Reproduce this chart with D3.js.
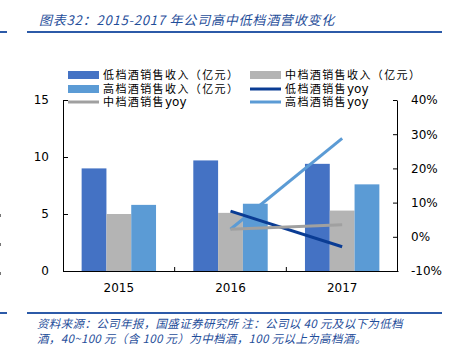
<!DOCTYPE html>
<html><head><meta charset="utf-8">
<script src="https://cdn.jsdelivr.net/npm/d3@7"></script>
<style>body{margin:0;background:#fff}svg{display:block}</style>
</head><body>
<svg id="c" width="452" height="349"></svg>
<script>
const categories = ["2015","2016","2017"];
const lowRev = [9.0, 9.7, 9.4];
const midRev = [5.0, 5.1, 5.3];
const highRev = [5.8, 5.9, 7.6];
const lowYoy = [null, 7.5, -2.9];
const midYoy = [null, 2.2, 3.5];
const highYoy = [null, 2.2, 28.8];
const leftTicks = [0,5,10,15];
const rightTicks = [-10,0,10,20,30,40];

const svg = d3.select("#c");
const font = "'Noto Sans CJK SC','Noto Sans',sans-serif";
const legFont = "'DejaVu Sans','Noto Sans CJK SC',sans-serif";
const titleColor = "#1f4e9a";
const cLow="#4472C4", cMid="#B4B4B4", cHigh="#5B9BD5";
const lLow="#0a3c94", lMid="#a0a0a0", lHigh="#5b9bd5";

// title
svg.append("text").attr("x",39).attr("y",25).attr("font-family",font).attr("font-size",13)
  .attr("font-style","italic").attr("letter-spacing",0.8).attr("fill",titleColor).text("图表32：2015-2017 年公司高中低档酒营收变化");
svg.append("rect").attr("x",27).attr("y",31).attr("width",415).attr("height",2).attr("fill","#2c5aa8");
svg.append("rect").attr("x",0).attr("y",31).attr("width",7).attr("height",2).attr("fill","#2c5aa8");

const x0=63, x1=398, yTop=100, yBot=271;
const x = d3.scaleBand().domain(categories).range([x0,x1]).paddingInner(0).paddingOuter(0);
const groupW = 74.4;
const sub = d3.scaleBand().domain(["low","mid","high"])
  .range([(x.bandwidth()-groupW)/2,(x.bandwidth()+groupW)/2]).paddingInner(0).paddingOuter(0);
const yL = d3.scaleLinear().domain([0,15]).range([yBot,yTop]);
const yR = d3.scaleLinear().domain([-10,40]).range([yBot,yTop]);

const series=[["low",lowRev,cLow],["mid",midRev,cMid],["high",highRev,cHigh]];
series.forEach(([k,vals,col])=>{
  svg.append("g").selectAll("rect").data(vals).join("rect")
    .attr("x",(d,i)=>x(categories[i])+sub(k)).attr("width",sub.bandwidth())
    .attr("y",d=>yL(d)).attr("height",d=>yBot-yL(d)).attr("fill",col);
});

// axes
const axL = d3.axisLeft(yL).tickValues(leftTicks).tickSize(-5).tickPadding(14).tickSizeOuter(0);
const gL = svg.append("g").attr("transform",`translate(${x0},0)`).call(axL);
const axR = d3.axisRight(yR).tickValues(rightTicks).tickSize(-4).tickPadding(14).tickFormat(d=>d+"%").tickSizeOuter(0);
const gR = svg.append("g").attr("transform",`translate(${x1-1},0)`).call(axR);
const axB = d3.axisBottom(x).tickSize(0).tickPadding(12).tickSizeOuter(0);
const gB = svg.append("g").attr("transform",`translate(0,${yBot})`).call(axB);
[gL,gR,gB].forEach(g=>{
  g.selectAll("text").attr("font-family","Verdana,'DejaVu Sans',sans-serif").attr("font-size",12).attr("fill","#000");
  g.selectAll("line").attr("stroke","#000");
  g.select(".domain").attr("stroke","#000");
});
// category boundary ticks pointing up
svg.append("g").selectAll("line").data(categories.slice(1)).join("line")
  .attr("x1",d=>x(d)).attr("x2",d=>x(d)).attr("y1",yBot).attr("y2",yBot-4).attr("stroke","#000");

// lines
const line = d3.line().defined(d=>d!=null).x((d,i)=>x(categories[i])+x.bandwidth()/2).y(d=>yR(d));
[[highYoy,lHigh],[lowYoy,lLow],[midYoy,lMid]].forEach(([v,c])=>{
  svg.append("path").datum(v).attr("d",line).attr("fill","none").attr("stroke",c).attr("stroke-width",3);
});

// legend
const leg = [
  {t:"低档酒销售收入（亿元）",c:cLow,type:"rect",x:68,y:75},
  {t:"中档酒销售收入（亿元）",c:cMid,type:"rect",x:250,y:75},
  {t:"高档酒销售收入（亿元）",c:cHigh,type:"rect",x:68,y:89},
  {t:"低档酒销售yoy",c:lLow,type:"line",x:250,y:89},
  {t:"中档酒销售yoy",c:lMid,type:"line",x:68,y:102},
  {t:"高档酒销售yoy",c:lHigh,type:"line",x:250,y:102}
];
const lg = svg.append("g");
leg.forEach(d=>{
  if(d.type==="rect") lg.append("rect").attr("x",d.x).attr("y",d.y-4).attr("width",31).attr("height",8).attr("fill",d.c);
  else lg.append("line").attr("x1",d.x).attr("x2",d.x+31).attr("y1",d.y).attr("y2",d.y).attr("stroke",d.c).attr("stroke-width",3);
  const t = lg.append("text").attr("x",d.x+35).attr("y",d.y+4).attr("font-family",legFont).attr("font-size",11).attr("fill","#000");
  const m = d.t.match(/^(.*?)(yoy)?$/);
  t.append("tspan").attr("letter-spacing",1.4).text(m[1]);
  if(m[2]) t.append("tspan").attr("letter-spacing",0).attr("font-size",12).text(m[2]);
});

// bottom rule & source
svg.append("rect").attr("x",27).attr("y",312).attr("width",415).attr("height",2).attr("fill","#2c5aa8");
svg.append("rect").attr("x",0).attr("y",312).attr("width",7).attr("height",2).attr("fill","#2c5aa8");
svg.append("text").attr("x",37).attr("y",328).attr("font-family",font).attr("font-size",11.5).attr("font-style","italic")
  .attr("letter-spacing",0.35).attr("fill",titleColor).text("资料来源：公司年报，国盛证券研究所  注：公司以 40 元及以下为低档");
svg.append("text").attr("x",37).attr("y",343).attr("font-family",font).attr("font-size",11.5).attr("font-style","italic")
  .attr("letter-spacing",0.35).attr("fill",titleColor).text("酒，40~100 元（含 100 元）为中档酒，100 元以上为高档酒。");
// edge marks
svg.append("g").selectAll("rect").data([215,244,273]).join("rect").attr("x",0).attr("y",d=>d-1).attr("width",1).attr("height",3).attr("fill","#777");
</script>
</body></html>
